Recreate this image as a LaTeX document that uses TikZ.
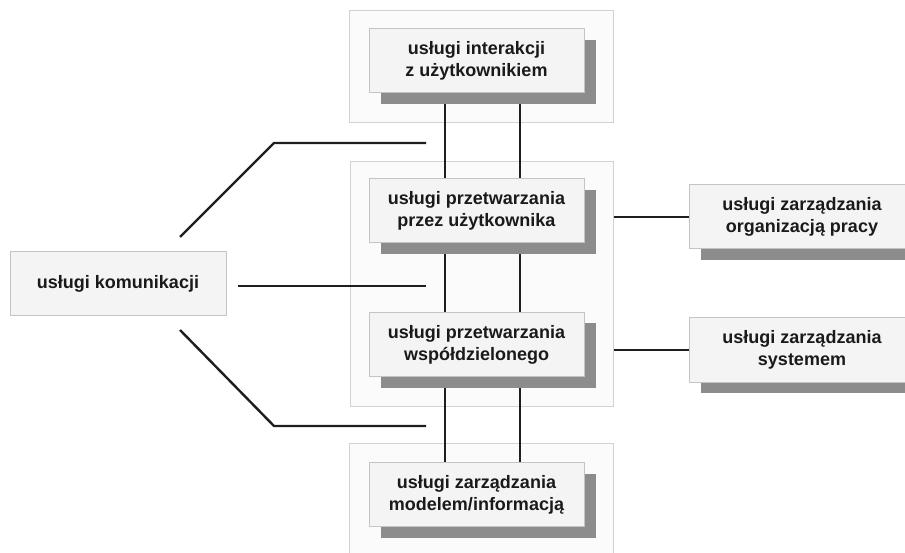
\documentclass[tikz,border=0pt]{standalone}
\usepackage{fontspec}
\setmainfont{Liberation Sans}
\usetikzlibrary{calc}
\definecolor{framefill}{HTML}{FBFBFB}
\definecolor{framedraw}{HTML}{D2D2D2}
\definecolor{boxfill}{HTML}{F4F4F4}
\definecolor{boxdraw}{HTML}{C4C4C4}
\definecolor{shadowgray}{HTML}{8C8C8C}
\definecolor{linkcol}{HTML}{1E1E1E}
\definecolor{txtcol}{HTML}{1A1A1A}
\pgfdeclarelayer{bg}
\pgfdeclarelayer{mid}
\pgfsetlayers{bg,mid,main}
\begin{document}
\begin{tikzpicture}[x=1pt,y=-1pt,
  frame/.style={draw=framedraw,fill=framefill,line width=1pt,inner sep=0pt},
  svcbox/.style={draw=boxdraw,fill=boxfill,line width=1pt,inner sep=0pt,
    minimum width=215pt,minimum height=64pt,align=center,
    font=\fontsize{18}{22}\selectfont\bfseries,text=txtcol},
  shadowed/.style={preaction={fill=shadowgray,draw=none,
    transform canvas={shift={(12pt,-11pt)}}}},
  link/.style={draw=linkcol,line width=2.4pt}]
\useasboundingbox (0,0) rectangle (905,553);

% service boxes of the central stack
\node[svcbox,shadowed] (inter) at (476.5,61) {usługi interakcji\\z użytkownikiem};
\node[svcbox,shadowed] (przetw) at (476.5,211) {usługi przetwarzania\\przez użytkownika};
\node[svcbox,shadowed] (wspol) at (476.5,344.5) {usługi przetwarzania\\współdzielonego};
\node[svcbox,shadowed] (model) at (476.5,494.5) {usługi zarządzania\\modelem/informacją};

% side services
\node[svcbox,minimum width=216pt] (komun) at (118,284) {usługi komunikacji};
\node[svcbox,shadowed,minimum width=226pt] (organ) at (802,217) {usługi zarządzania\\organizacją pracy};
\node[svcbox,shadowed,minimum width=226pt] (system) at (802,350) {usługi zarządzania\\systemem};

% layer frames
\begin{pgfonlayer}{bg}
\node[frame,minimum width=264pt,minimum height=112pt] (f1) at (481,67) {};
\node[frame,minimum width=263pt,minimum height=244pt] (f2) at (481.5,284) {};
\node[frame,minimum width=264pt,minimum height=117pt] (f3) at (481,501.5) {};
\end{pgfonlayer}

% connectors
\coordinate (ka) at (180,237);
\coordinate (kb) at (180,330);
\coordinate (ta) at (426,143);
\coordinate (tm) at (426,286);
\coordinate (tb) at (426,426);
\begin{pgfonlayer}{mid}
\foreach \dx in {-31.5,43.5}{
  \draw[link] ($(inter.south)+(\dx,0)$) -- ($(przetw.north)+(\dx,0)$);
  \draw[link] ($(przetw.south)+(\dx,0)$) -- ($(wspol.north)+(\dx,0)$);
  \draw[link] ($(wspol.south)+(\dx,0)$) -- ($(model.north)+(\dx,0)$);
}
\draw[link] (ka) -- (274,143) -- (ta);
\draw[link] ($(komun.east)+(11,2)$) -- (tm);
\draw[link] (kb) -- (274,426) -- (tb);
\draw[link] (organ.west -| f2.east) -- (organ.west);
\draw[link] (system.west -| f2.east) -- (system.west);
\end{pgfonlayer}
\end{tikzpicture}
\end{document}
